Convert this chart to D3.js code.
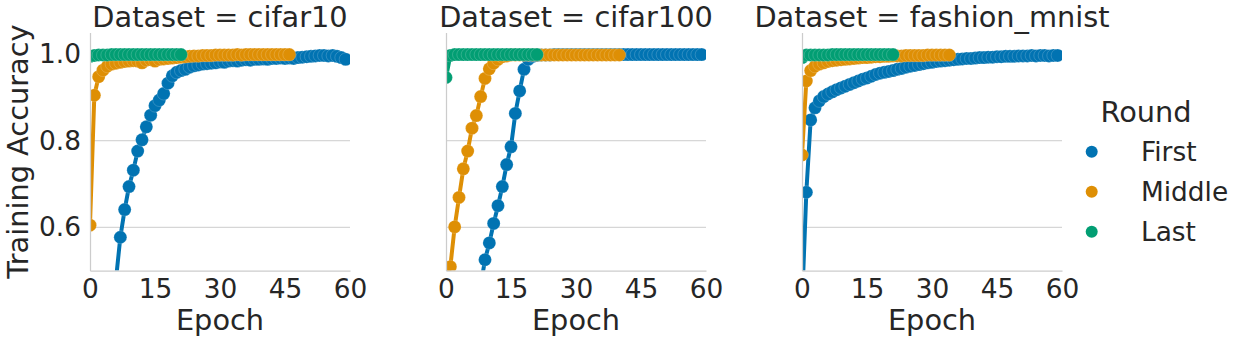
<!DOCTYPE html>
<html>
<head>
<meta charset="utf-8">
<script src="https://cdn.jsdelivr.net/npm/d3@7"></script>
<style>
  html, body { margin: 0; padding: 0; background: #ffffff; }
  svg { display: block; }
  text { font-family: "DejaVu Sans", sans-serif; fill: #262626; }
</style>
</head>
<body>
<svg id="chart" width="1250" height="343"></svg>
<script>
// ---------------- data ----------------
const datasets = ["cifar10", "cifar100", "fashion_mnist"];
const rounds = ["First", "Middle", "Last"];
const roundColors = ["#0173b2", "#de8f05", "#029e73"];
const xTicks = [0, 15, 30, 45, 60];
const yTicks = [0.6, 0.8, 1.0];
const yTickLabels = ["0.6", "0.8", "1.0"];

// Training accuracy per epoch (epoch = index, starting at 0)
const cifar10First = [0.22,0.30,0.35,0.39,0.43,0.46,0.48,0.577,0.641,0.694,0.732,0.776,0.802,0.832,0.859,0.881,0.894,0.909,0.933,0.950,0.958,0.962,0.965,0.970,0.973,0.975,0.977,0.978,0.979,0.980,0.982,0.981,0.984,0.985,0.984,0.986,0.987,0.986,0.988,0.988,0.989,0.988,0.990,0.990,0.991,0.990,0.991,0.990,0.992,0.993,0.994,0.995,0.996,0.997,0.997,0.996,0.997,0.995,0.992,0.988];
const cifar10Middle = [0.605,0.905,0.948,0.963,0.972,0.977,0.979,0.981,0.983,0.984,0.985,0.984,0.980,0.986,0.987,0.984,0.988,0.989,0.990,0.991,0.992,0.993,0.994,0.995,0.996,0.996,0.997,0.997,0.997,0.998,0.998,0.998,0.998,0.998,0.999,0.998,0.999,0.999,0.999,0.999,0.999,0.999,0.999,0.999,0.999,0.999,0.999];
const cifar10Last = [0.995,0.997,0.998,0.998,0.998,0.999,0.999,0.999,0.999,0.999,0.999,0.999,0.999,0.999,0.999,0.999,0.999,0.999,0.999,0.999,0.999,0.999];

const cifar100First = [0.05,0.10,0.16,0.22,0.28,0.34,0.39,0.43,0.465,0.525,0.564,0.609,0.650,0.694,0.745,0.786,0.863,0.915,0.965,0.988,0.995,0.997,0.998,0.998,0.998,0.999,0.999,0.999,0.999,0.999,0.999,0.999,0.999,0.999,0.999,0.999,0.999,0.999,0.999,0.999,0.999,0.999,0.999,0.999,0.999,0.999,0.999,0.999,0.999,0.999,0.999,0.999,0.999,0.999,0.999,0.999,0.999,0.999,0.999,0.999];
const cifar100Middle = [0.47,0.509,0.601,0.669,0.735,0.776,0.829,0.858,0.902,0.944,0.966,0.979,0.988,0.994,0.996,0.998,0.998,0.998,0.998,0.998,0.998,0.998,0.998,0.998,0.998,0.998,0.998,0.998,0.998,0.998,0.998,0.998,0.998,0.998,0.998,0.998,0.998,0.998,0.998,0.998,0.998];
const cifar100Last = [0.946,0.997,0.999,0.999,0.999,0.999,0.999,0.999,0.999,0.999,0.999,0.999,0.999,0.999,0.999,0.999,0.999,0.999,0.999,0.999,0.999,0.999];

const fashionFirst = [0.42,0.681,0.848,0.876,0.892,0.902,0.908,0.913,0.918,0.922,0.926,0.930,0.934,0.938,0.942,0.945,0.949,0.953,0.956,0.958,0.960,0.962,0.965,0.967,0.970,0.972,0.974,0.976,0.978,0.980,0.981,0.983,0.984,0.985,0.986,0.987,0.988,0.989,0.990,0.990,0.991,0.992,0.992,0.993,0.993,0.994,0.994,0.995,0.995,0.995,0.996,0.996,0.996,0.997,0.996,0.997,0.997,0.996,0.997,0.997];
const fashionMiddle = [0.767,0.938,0.962,0.972,0.977,0.980,0.983,0.985,0.986,0.987,0.988,0.989,0.990,0.991,0.992,0.992,0.993,0.994,0.994,0.995,0.995,0.996,0.996,0.996,0.997,0.997,0.997,0.997,0.997,0.998,0.998,0.998,0.998,0.998,0.998];
const fashionLast = [0.992,0.998,0.998,0.998,0.998,0.998,0.998,0.999,0.999,0.999,0.999,0.999,0.999,0.999,0.999,0.999,0.999,0.999,0.999,0.999,0.999,0.999];

const seriesByDataset = [
  [cifar10First, cifar10Middle, cifar10Last],
  [cifar100First, cifar100Middle, cifar100Last],
  [fashionFirst, fashionMiddle, fashionLast]
];

// ---------------- layout ----------------
const svg = d3.select("#chart");
const panelLefts = [90, 446, 802];
const panelW = 260;
const plotTop = 32.5, plotBottom = 270.6;
const tickFont = 26.4, labelFont = 28.8;
const gridColor = "#cccccc";

const y = d3.scaleLinear().domain([0.5, 1.05]).range([plotBottom, plotTop]);

datasets.forEach((ds, di) => {
  const x0 = panelLefts[di];
  const x = d3.scaleLinear().domain([0, 60]).range([x0, x0 + panelW]);
  const g = svg.append("g");

  // clip
  const clipId = "clip" + di;
  svg.append("clipPath").attr("id", clipId)
    .append("rect").attr("x", x0).attr("y", plotTop).attr("width", panelW).attr("height", plotBottom - plotTop);

  // grid
  g.selectAll("line.grid").data(yTicks).enter().append("line")
    .attr("x1", x0).attr("x2", x0 + panelW)
    .attr("y1", d => y(d)).attr("y2", d => y(d))
    .attr("stroke", gridColor).attr("stroke-width", 1);

  // series
  const plot = g.append("g").attr("clip-path", `url(#${clipId})`);
  const line = d3.line().x((d, i) => x(i)).y(d => y(d));
  seriesByDataset[di].forEach((vals, ri) => {
    const sg = plot.append("g");
    sg.append("path").datum(vals)
      .attr("d", line).attr("fill", "none")
      .attr("stroke", roundColors[ri]).attr("stroke-width", 4)
      .attr("stroke-linejoin", "round").attr("stroke-linecap", "round");
    sg.selectAll("circle").data(vals).enter().append("circle")
      .attr("cx", (d, i) => x(i)).attr("cy", d => y(d)).attr("r", 6.5)
      .attr("fill", roundColors[ri])
      .attr("stroke", "#ffffff").attr("stroke-width", 0.6).attr("stroke-opacity", 0.3);
  });

  // x axis
  const xAxis = d3.axisBottom(x).tickValues(xTicks).tickSize(0).tickPadding(9);
  const gx = g.append("g").attr("transform", `translate(0,${plotBottom})`).call(xAxis);
  gx.select(".domain").attr("stroke", gridColor).attr("stroke-width", 1.25);
  gx.selectAll("text").style("font-size", tickFont + "px").attr("fill", "#262626");

  // y axis
  const yAxis = d3.axisLeft(y).tickValues(yTicks).tickSize(0).tickPadding(9)
    .tickFormat((d, i) => di === 0 ? yTickLabels[i] : "");
  const gy = g.append("g").attr("transform", `translate(${x0},0)`).call(yAxis);
  gy.select(".domain").attr("stroke", gridColor).attr("stroke-width", 1.25);
  gy.selectAll("text").style("font-size", tickFont + "px").attr("fill", "#262626");

  // title
  g.append("text").attr("x", x0 + panelW / 2).attr("y", 27)
    .attr("text-anchor", "middle").style("font-size", labelFont + "px")
    .text("Dataset = " + ds);

  // x label
  g.append("text").attr("x", x0 + panelW / 2).attr("y", 330)
    .attr("text-anchor", "middle").style("font-size", labelFont + "px")
    .text("Epoch");
});

// y label
svg.append("text")
  .attr("transform", `translate(28,${(plotTop + plotBottom) / 2}) rotate(-90)`)
  .attr("text-anchor", "middle").style("font-size", labelFont + "px")
  .text("Training Accuracy");

// legend
const leg = svg.append("g");
leg.append("text").attr("x", 1146).attr("y", 121.5).attr("text-anchor", "middle")
  .style("font-size", labelFont + "px").text("Round");
rounds.forEach((r, i) => {
  const cy = 151.7 + i * 40;
  leg.append("circle").attr("cx", 1091.7).attr("cy", cy).attr("r", 6).attr("fill", roundColors[i]);
  leg.append("text").attr("x", 1141).attr("y", cy + 9)
    .style("font-size", tickFont + "px").text(r);
});
</script>
</body>
</html>
